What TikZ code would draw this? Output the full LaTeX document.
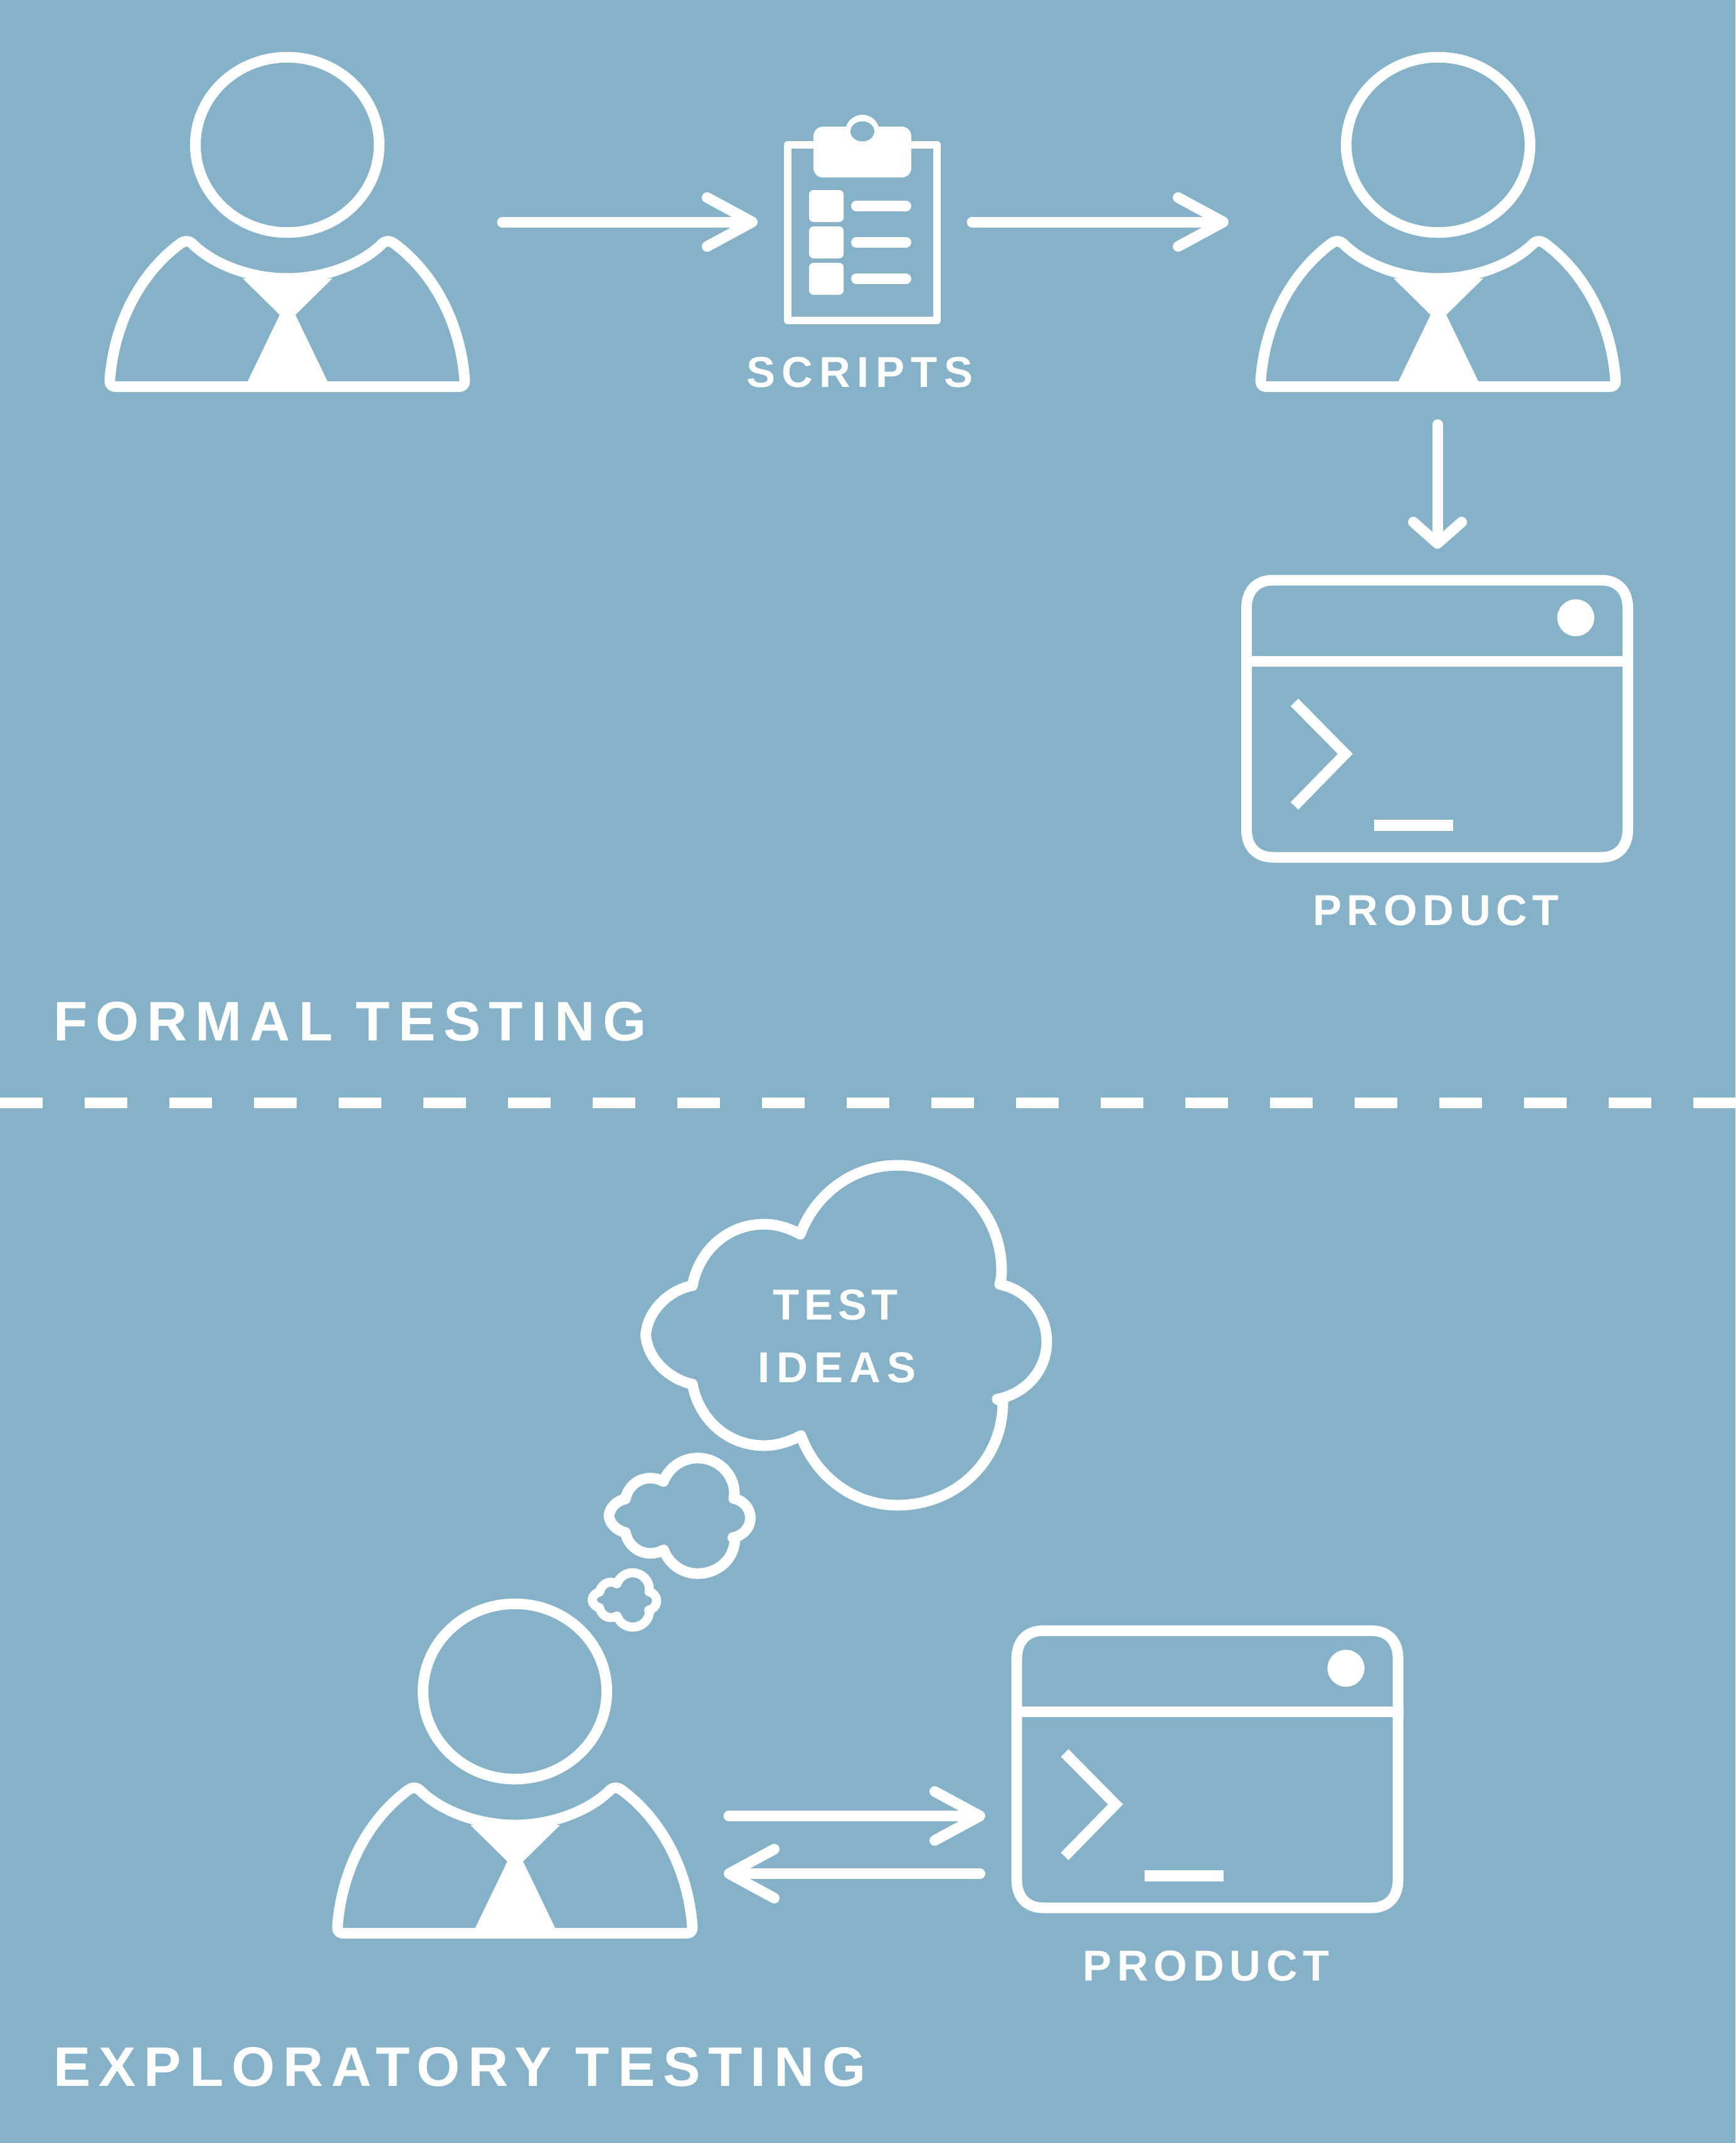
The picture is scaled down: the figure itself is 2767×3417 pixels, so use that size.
\documentclass[tikz,border=0pt]{standalone}
\usepackage{fontspec}
\usetikzlibrary{arrows.meta}
\setmainfont{Liberation Sans}
\newfontfamily\headfont[LetterSpace=14.5]{Liberation Sans Bold}
\newfontfamily\labelfont[LetterSpace=15]{Liberation Sans Bold}
\newfontfamily\labelfontb[LetterSpace=12.5]{Liberation Sans Bold}
\newfontfamily\labelfontc[LetterSpace=11]{Liberation Sans Bold}
\definecolor{bgblue}{HTML}{85B2C8}
\tikzset{
  every picture/.style={x=1pt,y=-1pt},
  stroke/.style={draw=white,line width=17pt,line join=round,line cap=round},
  thin stroke/.style={draw=white,line width=12.3pt,line join=round},
  flowarrow/.style={stroke,-{Straight Barb[length=72pt,width=78pt,line width=17pt,round]}},
  downarrow/.style={stroke,-{Straight Barb[length=34pt,width=77pt,line width=17pt,round]}},
  heading/.style={text=white,anchor=base west,inner sep=0pt,font=\headfont\fontsize{89}{89}\selectfont},
  caption/.style={text=white,anchor=base west,inner sep=0pt,font=\labelfont\fontsize{69}{69}\selectfont},
  captionb/.style={caption,font=\labelfontb\fontsize{69}{69}\selectfont},
  captionc/.style={caption,font=\labelfontc\fontsize{69}{69}\selectfont},
  person/.pic={
    \draw[stroke] (458,231) ellipse [x radius=146.5pt,y radius=139.75pt];
    \draw[stroke] (175,607) .. controls (182,510) and (228,432) .. (288,388)
      .. controls (293,384) and (301,383) .. (306,388)
      .. controls (340,422) and (400,444) .. (458,444)
      .. controls (516,444) and (576,422) .. (610,388)
      .. controls (615,383) and (623,384) .. (628,388)
      .. controls (688,432) and (734,510) .. (741,607)
      .. controls (741,613) and (738,616.5) .. (732,616.5)
      -- (184,616.5) .. controls (178,616.5) and (175,613) .. (175,607) -- cycle;
    \fill[white] (387,444) -- (446,502) -- (391,616) -- (526,616) -- (471,502) -- (530,444) -- cycle;
  },
  terminal/.pic={
    \draw[stroke] (2030.5,925) -- (2552.5,925) .. controls (2580,925) and (2595.5,942) .. (2595.5,970)
      -- (2595.5,1322) .. controls (2595.5,1350) and (2580,1367) .. (2552.5,1367)
      -- (2030.5,1367) .. controls (2003,1367) and (1987.5,1350) .. (1987.5,1322)
      -- (1987.5,970) .. controls (1987.5,942) and (2003,925) .. (2030.5,925) -- cycle;
    \draw[draw=white,line width=17pt] (1979,1054) -- (2604,1054);
    \fill[white] (2512.5,985) circle [radius=29.5pt];
    \draw[draw=white,line width=17pt,line join=miter] (2064,1120) -- (2145,1202) -- (2064,1285);
    \fill[white] (2191,1307) rectangle (2317,1324.5);
  },
}
\newcommand{\cloudshape}{(1104,2050) .. controls (1114.4,1993.6) and (1160.6,1952) .. (1218,1952)
  .. controls (1238.5,1952) and (1258,1958) .. (1276,1968)
  .. controls (1300.6,1902.4) and (1361,1858) .. (1431,1858)
  .. controls (1523,1858) and (1597,1933) .. (1597,2026)
  .. controls (1597,2034) and (1596,2041) .. (1594,2048)
  .. controls (1637.5,2056.4) and (1669,2094.7) .. (1669,2139)
  .. controls (1669,2183.3) and (1637.5,2221.6) .. (1590,2231)
  -- (1599,2236)
  .. controls (1599,2329) and (1524.3,2400) .. (1431,2400)
  .. controls (1361,2400) and (1301,2354.6) .. (1277,2289)
  .. controls (1258,2299) and (1238.5,2305) .. (1218,2305)
  .. controls (1160.6,2305) and (1114.4,2263.4) .. (1104,2207)
  .. controls (1070,2200) and (1033,2170) .. (1029.5,2128.5)
  .. controls (1033,2087) and (1070,2056) .. (1104,2050) -- cycle}
\begin{document}
\begin{tikzpicture}
\path[use as bounding box,fill=bgblue] (0,0) rectangle (2767,3417);
% people
\pic at (0,0) {person};
\pic at (1835,0) {person};
\pic at (363,2466) {person};
% clipboard
\draw[thin stroke] (1256,231) rectangle (1494,511);
\fill[white,rounded corners=15pt] (1297,202) rectangle (1453,283);
\fill[white] (1375,209.5) ellipse [x radius=27pt,y radius=26.5pt];
\fill[bgblue] (1375,209.5) ellipse [x radius=19pt,y radius=16pt];
\foreach \yy in {303,361,419} \fill[white,rounded corners=7pt] (1290,\yy) rectangle (1345,\yy+51);
\foreach \yy in {328.5,386.5,444.5} \draw[stroke] (1365.5,\yy) -- (1444.5,\yy);
% terminals
\pic at (0,0) {terminal};
\pic at (-366.4,1675) {terminal};
% divider
\draw[draw=white,line width=17pt,dash pattern=on 68pt off 67pt] (0,1758.5) -- (2767,1758.5);
% clouds
\draw[stroke] \cloudshape;
\begin{scope}[shift={(607.9,1693.1)},xscale=.3526,yscale=.34]
\draw[stroke] \cloudshape;
\end{scope}
\begin{scope}[shift={(778.3,2210.4)},xscale=.161,yscale=.16]
\draw[stroke,line width=14.5pt] \cloudshape;
\end{scope}
% connector end points
\coordinate (a1s) at (801,354); \coordinate (a1e) at (1208,354);
\coordinate (a2s) at (1550,354); \coordinate (a2e) at (1959,354);
\coordinate (a3s) at (2292,677); \coordinate (a3e) at (2292,875);
\coordinate (a4s) at (1162,2895.5); \coordinate (a4e) at (1571,2895.5);
\coordinate (a5s) at (1562.5,2987.5); \coordinate (a5e) at (1154,2987.5);
\draw[flowarrow] (a1s) -- (a1e);
\draw[flowarrow] (a2s) -- (a2e);
\draw[downarrow] (a3s) -- (a3e);
\draw[flowarrow] (a4s) -- (a4e);
\draw[flowarrow] (a5s) -- (a5e);
% text
\node[caption] (scripts) at (1190,617) {SCRIPTS};
\node[captionb] (product1) at (2093,1475) {PRODUCT};
\node[captionb] (product2) at (1726.5,3158) {PRODUCT};
\node[captionc] (test) at (1232.5,2104) {TEST};
\node[caption] (ideas) at (1208.5,2204) {IDEAS};
\node[heading] (formal) at (85,1659) {FORMAL TESTING};
\node[heading] (explo) at (85,3326) {EXPLORATORY TESTING};
\end{tikzpicture}
\end{document}
